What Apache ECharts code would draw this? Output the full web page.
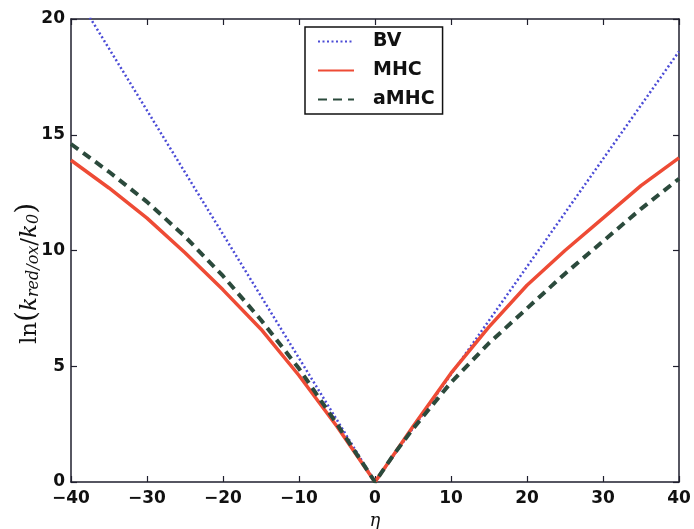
<!DOCTYPE html>
<html>
<head>
<meta charset="utf-8">
<script src="https://cdn.jsdelivr.net/npm/echarts@6/dist/echarts.min.js"></script>
<style>
  html, body { margin: 0; padding: 0; background: #fff; }
  #chart { width: 694px; height: 529px; }
</style>
</head>
<body>
<div id="chart"></div>
<script>
// Overpotential (eta) and ln(k/k0) for the three rate models
const etaBV = [-40, 0, 40];
const bvValues = [21.4, 0, 18.6];

const etaMHC = [-40, -35, -30, -25, -20, -15, -10, -5, -2.5, 0, 2.5, 5, 10, 15, 20, 25, 30, 35, 40];
const mhcValues = [13.9, 12.7, 11.4, 9.9, 8.3, 6.6, 4.6, 2.4, 1.2, 0, 1.2, 2.4, 4.7, 6.7, 8.5, 10.0, 11.4, 12.8, 14.0];

const etaAMHC = [-40, -35, -30, -25, -20, -15, -10, -5, -2.5, 0, 2.5, 5, 10, 15, 20, 25, 30, 35, 40];
const amhcValues = [14.6, 13.4, 12.1, 10.6, 8.9, 7.0, 4.9, 2.5, 1.25, 0, 1.2, 2.3, 4.3, 6.0, 7.5, 9.0, 10.4, 11.8, 13.1];

const xTicks = [-40, -30, -20, -10, 0, 10, 20, 30, 40];
const yTicks = [0, 5, 10, 15, 20];

const seriesNames = ['BV', 'MHC', 'aMHC'];

function pairs(xs, ys) { return xs.map((x, i) => [x, ys[i]]); }

const axisColor = '#1f1f2e';
const tickFont = { fontFamily: 'DejaVu Sans', fontWeight: 'bold', fontSize: 17, color: '#111' };
const frameLine = { onZero: false, lineStyle: { color: axisColor, width: 1.5 } };
const innerTick = { inside: true, length: 6, lineStyle: { color: axisColor, width: 1.2 } };

const chart = echarts.init(document.getElementById('chart'), null, { renderer: 'canvas' });

chart.setOption({
  animation: false,
  backgroundColor: '#fff',
  grid: { left: 71, right: 15, top: 19, bottom: 47, containLabel: false, outerBoundsMode: 'none' },
  legend: {
    orient: 'vertical',
    left: 305,
    top: 27,
    data: seriesNames,
    itemWidth: 36,
    itemHeight: 20,
    itemGap: 10,
    padding: [5, 8, 5, 12],
    borderColor: '#111',
    borderWidth: 1.5,
    backgroundColor: '#fff',
    // line-only keys: hide the marker that line series add to their legend icon
    itemStyle: { color: 'rgba(0,0,0,0)', borderWidth: 0, opacity: 0 },
    textStyle: { fontFamily: 'DejaVu Sans', fontWeight: 'bold', fontSize: 19, color: '#111', padding: [0, 0, 0, 14] }
  },
  xAxis: [
    {
      type: 'value', min: -40, max: 40, interval: 10,
      name: 'η', nameLocation: 'middle', nameGap: 30, nameMoveOverlap: false,
      nameTextStyle: { fontFamily: 'DejaVu Serif', fontStyle: 'italic', fontSize: 18, color: '#111' },
      axisLine: frameLine,
      axisTick: innerTick,
      axisLabel: Object.assign({ margin: 8, formatter: v => (v < 0 ? '\u2212' + Math.abs(v) : '' + v) }, tickFont),
      splitLine: { show: false }
    },
    {
      type: 'value', min: -40, max: 40, interval: 10, position: 'top',
      axisLine: frameLine,
      axisTick: innerTick,
      axisLabel: { show: false },
      splitLine: { show: false }
    }
  ],
  yAxis: [
    {
      type: 'value', min: 0, max: 20, interval: 5,
      name: '{n|ln}{p|(}{i|k}{s|red/ox}{n|/}{i|k}{s|0}{p|)}',
      nameLocation: 'middle', nameRotate: 90, nameGap: 29, nameMoveOverlap: false,
      nameTextStyle: {
        padding: [0, 46, 0, 0],
        rich: {
          n: { fontFamily: 'DejaVu Serif', fontSize: 23, color: '#111', verticalAlign: 'bottom', lineHeight: 28 },
          p: { fontFamily: 'DejaVu Serif', fontSize: 28, color: '#111', verticalAlign: 'bottom', lineHeight: 30 },
          i: { fontFamily: 'DejaVu Serif', fontStyle: 'italic', fontSize: 23, color: '#111', verticalAlign: 'bottom', lineHeight: 28 },
          s: { fontFamily: 'DejaVu Serif', fontStyle: 'italic', fontSize: 16, color: '#111', verticalAlign: 'bottom', lineHeight: 13 }
        }
      },
      axisLine: frameLine,
      axisTick: innerTick,
      axisLabel: Object.assign({ margin: 6 }, tickFont),
      splitLine: { show: false }
    },
    {
      type: 'value', min: 0, max: 20, interval: 5, position: 'right',
      axisLine: Object.assign({ show: true }, frameLine),
      axisTick: Object.assign({ show: true }, innerTick),
      axisLabel: { show: false },
      splitLine: { show: false }
    }
  ],
  series: [
    {
      name: 'BV', type: 'line', xAxisIndex: 0, yAxisIndex: 0,
      data: pairs(etaBV, bvValues), symbol: 'none', clip: true,
      lineStyle: { color: '#4b4bd6', width: 2.5, type: [2, 2.5] },
      itemStyle: { color: '#4b4bd6' }, z: 2
    },
    {
      name: 'MHC', type: 'line', xAxisIndex: 0, yAxisIndex: 0,
      data: pairs(etaMHC, mhcValues), symbol: 'none', clip: true,
      lineStyle: { color: '#ee4b35', width: 3.5 },
      itemStyle: { color: '#ee4b35' }, z: 3
    },
    {
      name: 'aMHC', type: 'line', xAxisIndex: 0, yAxisIndex: 0,
      data: pairs(etaAMHC, amhcValues), symbol: 'none', clip: true,
      lineStyle: { color: '#2b4a3c', width: 4, type: [9, 6] },
      itemStyle: { color: '#2b4a3c' }, z: 4
    }
  ]
});
</script>
</body>
</html>
